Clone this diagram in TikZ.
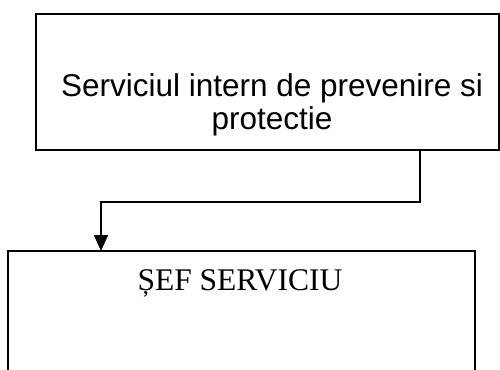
\documentclass[tikz,border=0pt]{standalone}
\usepackage{fontspec}
\usetikzlibrary{arrows.meta}
\newfontfamily\arialf{Liberation Sans}
\newfontfamily\timesf{Liberation Serif}
\begin{document}
\begin{tikzpicture}[x=1pt,y=-1pt,
  boxst/.style={draw=black, line width=1.5pt, inner sep=0pt, outer sep=0pt, rectangle},
  conn/.style={draw=black, line width=1.5pt, -{Triangle[length=16pt,width=14pt]}},
  toptext/.style={font=\arialf\fontsize{31.5}{33}\selectfont, inner sep=0pt, anchor=base},
  bottext/.style={font=\timesf\fontsize{31.5}{33}\selectfont, inner sep=0pt, anchor=base}]
\useasboundingbox (0,0) rectangle (500,369);
\node[boxst, minimum width=463pt, minimum height=136pt] (top) at (267.5,82) {};
\node[toptext] (t1) at (272,96) {Serviciul intern de prevenire si};
\node[toptext] (t2) at (272,129) {protectie};
\node[boxst, minimum width=467pt, minimum height=160pt] (bot) at (241.5,331) {};
\node[bottext] (b1) at (240,290) {ȘEF SERVICIU};
\coordinate (c1) at (420,202);
\coordinate (c2) at (101,202);
\draw[conn] (top.south -| c1) -- (c1) -- (c2) -- (c2 |- bot.north);
\end{tikzpicture}
\end{document}
